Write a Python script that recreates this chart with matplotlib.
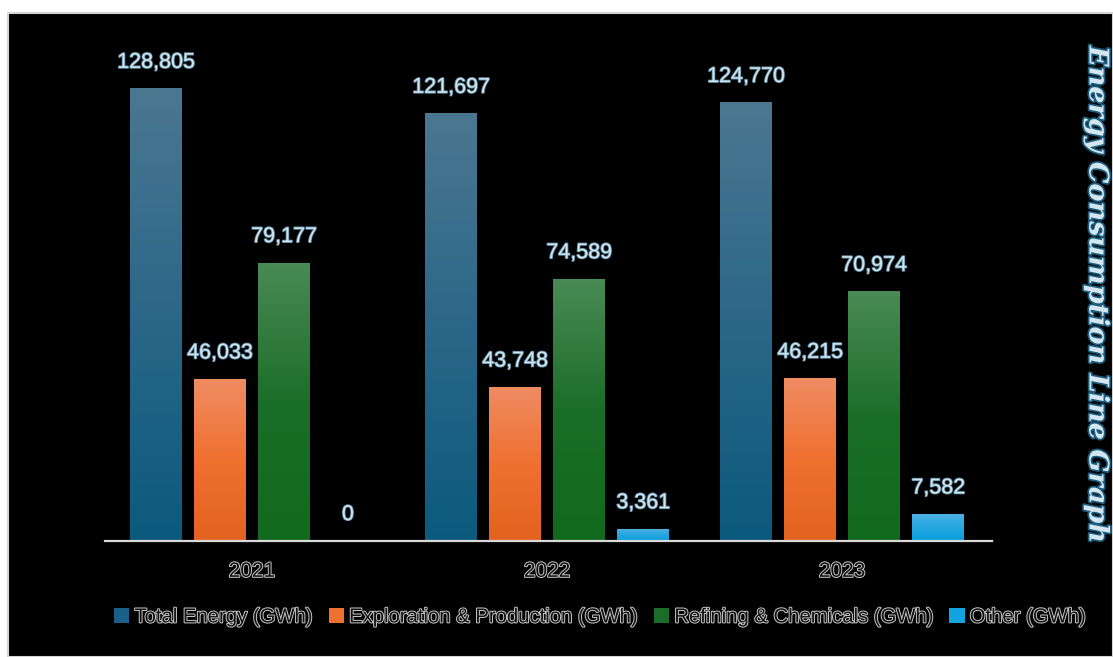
import numpy as np
import matplotlib.pyplot as plt
import matplotlib.patheffects as pe
from matplotlib.colors import LinearSegmentedColormap
from matplotlib.patches import Rectangle, Patch

years = ['2021', '2022', '2023']
series = ['Total Energy (GWh)', 'Exploration & Production (GWh)',
          'Refining & Chemicals (GWh)', 'Other (GWh)']
total_energy = [128805, 121697, 124770]
exploration = [46033, 43748, 46215]
refining = [79177, 74589, 70974]
other = [0, 3361, 7582]

# gradient stops: top, middle, bottom
grads = [
    ['#4b7791', '#2b6788', '#0b5a7d'],
    ['#ef8c63', '#f07030', '#e3621f'],
    ['#4a8a55', '#1b6e28', '#126a1e'],
    ['#4cb0e4', '#25a6e0', '#08a0dc'],
]
solid = ['#1a6088', '#f07030', '#1b6e28', '#12a4e0']

fig = plt.figure(figsize=(11.13, 6.57), dpi=100)
fig.patch.set_facecolor('white')
fig.patches.append(Rectangle((8 / 1113, 0), 1 - 8 / 1113, 1 - 13 / 657,
                             transform=fig.transFigure, facecolor='black',
                             edgecolor='#d4d4d4', linewidth=1.5, zorder=-5))

ax = fig.add_axes([105 / 1113, 116 / 657, 887 / 1113, 501 / 657], zorder=2)
ax.set_facecolor('none')

x = np.arange(len(years))
step = 0.217
width = 0.176
values = [total_energy, exploration, refining, other]

label_fx = [pe.withStroke(linewidth=1.2, foreground='#5f8aa0')]
for i, vals in enumerate(values):
    pos = x + (i - 1.5) * step
    bars = ax.bar(pos, vals, width, color='none', edgecolor='none')
    cmap = LinearSegmentedColormap.from_list('g%d' % i, grads[i])
    grad = np.linspace(0, 1, 256).reshape(-1, 1)
    for b, v in zip(bars, vals):
        if v > 0:
            ax.imshow(grad, cmap=cmap, aspect='auto', origin='upper',
                      extent=(b.get_x(), b.get_x() + b.get_width(), 0, v),
                      zorder=2)
        ax.annotate(f'{v:,}', (b.get_x() + b.get_width() / 2, v),
                    xytext=(0, 19), textcoords='offset points',
                    ha='center', va='center', fontsize=15.5,
                    family='Liberation Sans', color='#cfe4ef',
                    path_effects=label_fx, zorder=3)

ax.set_xlim(-0.498, 2.508)
ax.set_ylim(0, 142700)
ax.set_xticks(x)
ax.set_xticklabels(years)
ax.tick_params(axis='x', length=0, pad=15)
for lbl in ax.get_xticklabels():
    lbl.set_fontsize(15)
    lbl.set_family('Liberation Sans')
    lbl.set_color('#111111')
    lbl.set_path_effects([pe.withStroke(linewidth=1.4, foreground='#c8c8c8')])
ax.set_yticks([])
for s in ['top', 'left', 'right']:
    ax.spines[s].set_visible(False)
ax.spines['bottom'].set_color('#d9d9d9')
ax.spines['bottom'].set_linewidth(1.6)

handles = [Patch(facecolor=c) for c in solid]
leg = fig.legend(handles, series, loc='center', bbox_to_anchor=(0.539, 0.061),
                 ncol=4, frameon=False, handlelength=0.75,
                 handleheight=0.75, handletextpad=0.25, columnspacing=0.8,
                 prop={'family': 'Liberation Sans', 'size': 14.6})
for t in leg.get_texts():
    t.set_color('#111111')
    t.set_path_effects([pe.withStroke(linewidth=1.4, foreground='#c8c8c8')])

fig.text(0.9856, 0.551, 'Energy Consumption Line Graph', rotation=-90,
         ha='center', va='center', fontsize=19.5, family='DejaVu Serif',
         weight='bold', style='italic', color='#d4e6f0',
         path_effects=[pe.withStroke(linewidth=2.5, foreground='#1c5d7e')])

fig.savefig('out.png', dpi=100, facecolor=fig.get_facecolor())
